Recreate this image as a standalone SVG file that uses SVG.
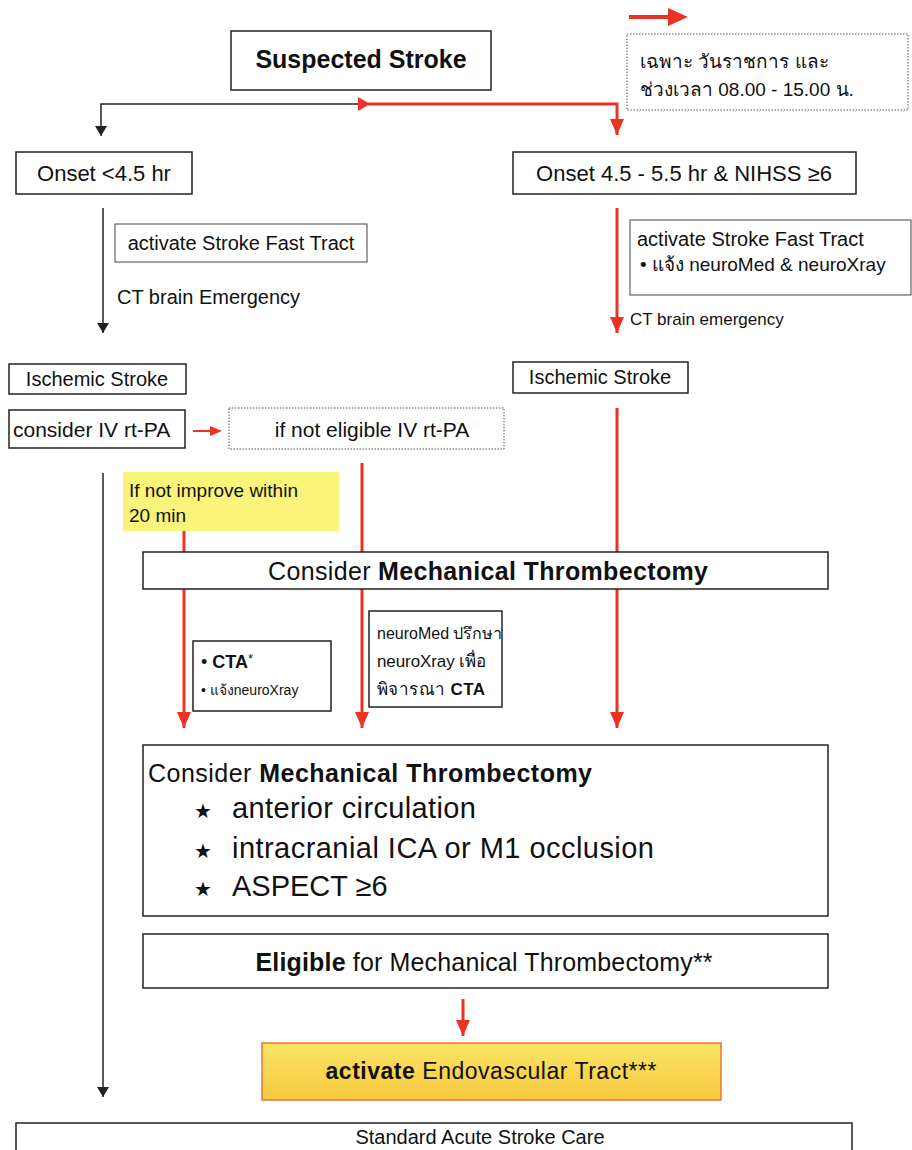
<svg xmlns="http://www.w3.org/2000/svg" width="912" height="1150" viewBox="0 0 912 1150">
  <defs>
    <style>
      text { font-family: "Liberation Sans", "Noto Sans", "DejaVu Sans", sans-serif; fill: #111; }
      .box { fill: #fff; stroke: #222; stroke-width: 1.5; }
      .thin { fill: #fff; stroke: #444; stroke-width: 1; }
      .dot { fill: #fff; stroke: #555; stroke-width: 1; stroke-dasharray: 1.5 1.5; }
      .blk { fill: none; stroke: #222; stroke-width: 1.5; }
      .red { fill: none; stroke: #ea3323; stroke-width: 3; }
      .b { font-weight: bold; }
    </style>
    <marker id="ahB" viewBox="0 0 10 12" refX="10" refY="6" markerWidth="10" markerHeight="12" markerUnits="userSpaceOnUse" orient="auto">
      <path d="M0,0 L10,6 L0,12 z" fill="#222"/>
    </marker>
    <marker id="ahR" viewBox="0 0 16 14" refX="16" refY="7" markerWidth="16" markerHeight="14" markerUnits="userSpaceOnUse" orient="auto">
      <path d="M0,0 L16,7 L0,14 z" fill="#ea3323"/>
    </marker>
    <linearGradient id="gold" x1="0" y1="0" x2="0" y2="1">
      <stop offset="0" stop-color="#fbe466"/>
      <stop offset="1" stop-color="#f6c93f"/>
    </linearGradient>
  </defs>

  <!-- legend: red arrow = office hours only -->
  <g id="legend">
    <line x1="629" y1="17" x2="672" y2="17" stroke="#ea3323" stroke-width="4"/>
    <path d="M668,8 L688,17 L668,26 z" fill="#ea3323"/>
    <rect class="dot" x="627" y="34" width="281" height="76"/>
    <text x="640" y="68" font-size="19">เฉพาะ วันราชการ และ</text>
    <text x="640" y="96" font-size="19">ช่วงเวลา 08.00 - 15.00 น.</text>
  </g>

  <g id="connectors">
    <!-- split below Suspected Stroke -->
    <path class="blk" d="M362,104 H101 V136" marker-end="url(#ahB)"/>
    <path d="M358,97 L370,104 L358,111 z" fill="#ea3323"/>
    <path class="red" d="M368,104 H617 V135" marker-end="url(#ahR)"/>
    <!-- left branch -->
    <path class="blk" d="M103,208 V333" marker-end="url(#ahB)"/>
    <line x1="193" y1="431" x2="212" y2="431" stroke="#ea3323" stroke-width="2"/>
    <path d="M210,426 L222,431 L210,436 z" fill="#ea3323"/>
    <path class="blk" d="M103,473 V1097" marker-end="url(#ahB)"/>
    <!-- right branch -->
    <path class="red" d="M617,208 V333" marker-end="url(#ahR)"/>
    <path class="red" d="M617,408 V552"/>
    <path class="red" d="M362,463 V552"/>
    <path class="red" d="M184,531 V552"/>
    <!-- into criteria box -->
    <path class="red" d="M184,589 V728" marker-end="url(#ahR)"/>
    <path class="red" d="M362,589 V728" marker-end="url(#ahR)"/>
    <path class="red" d="M617,589 V728" marker-end="url(#ahR)"/>
    <path class="red" d="M463,999 V1036" marker-end="url(#ahR)"/>
  </g>

  <g id="suspected">
    <rect class="box" x="231" y="31" width="260" height="59" stroke-width="2"/>
    <text x="361" y="68" font-size="25" class="b" text-anchor="middle">Suspected Stroke</text>
  </g>

  <g id="onset-early">
    <rect class="box" x="16" y="152" width="176" height="42"/>
    <text x="104" y="181" font-size="22" text-anchor="middle">Onset &lt;4.5 hr</text>
  </g>
  <g id="fast-tract-left">
    <rect class="thin" x="115" y="224" width="252" height="38"/>
    <text x="241" y="250" font-size="20" text-anchor="middle">activate Stroke Fast Tract</text>
  </g>
  <text id="ct-left" x="117" y="304" font-size="20">CT brain Emergency</text>

  <g id="onset-late">
    <rect class="box" x="513" y="152" width="343" height="42"/>
    <text x="684" y="181" font-size="22" text-anchor="middle">Onset 4.5 - 5.5 hr &amp; NIHSS ≥6</text>
  </g>
  <g id="fast-tract-right">
    <rect class="thin" x="630" y="220" width="281" height="75"/>
    <text x="637" y="246" font-size="20">activate Stroke Fast Tract</text>
    <text x="640" y="271" font-size="19">• แจ้ง neuroMed &amp; neuroXray</text>
  </g>
  <text id="ct-right" x="630" y="325" font-size="17">CT brain emergency</text>

  <g id="ischemic-left">
    <rect class="box" x="9" y="364" width="177" height="30"/>
    <text x="97" y="386" font-size="20" text-anchor="middle">Ischemic Stroke</text>
  </g>
  <g id="ischemic-right">
    <rect class="box" x="513" y="362" width="175" height="31"/>
    <text x="600" y="384" font-size="20" text-anchor="middle">Ischemic Stroke</text>
  </g>

  <g id="iv-rtpa">
    <rect class="box" x="9" y="410" width="176" height="38"/>
    <text x="13" y="437" font-size="21">consider IV rt-PA</text>
  </g>
  <g id="not-eligible">
    <rect class="dot" x="229" y="408" width="275" height="41"/>
    <text x="372" y="437" font-size="21" text-anchor="middle">if not eligible IV rt-PA</text>
  </g>

  <g id="no-improve">
    <rect x="123" y="472" width="216" height="59" fill="#faf57a"/>
    <text x="129" y="497" font-size="19">If not improve within</text>
    <text x="129" y="522" font-size="19">20 min</text>
  </g>

  <g id="consider-mt">
    <rect class="box" x="143" y="552" width="685" height="37"/>
    <text x="488" y="580" font-size="25" text-anchor="middle" textLength="440">Consider <tspan class="b">Mechanical Thrombectomy</tspan></text>
  </g>

  <g id="cta-notify">
    <rect class="box" x="193" y="641" width="138" height="70"/>
    <text x="201" y="668" font-size="18">• <tspan class="b">CTA</tspan><tspan font-size="13" dy="-5">*</tspan></text>
    <text x="201" y="695" font-size="14">•  แจ้งneuroXray</text>
  </g>

  <g id="consult">
    <rect class="box" x="369" y="611" width="133" height="96"/>
    <text x="377" y="639" font-size="16">neuroMed ปรึกษา</text>
    <text x="377" y="667" font-size="17" textLength="109">neuroXray เพื่อ</text>
    <text x="377" y="695" font-size="17" textLength="108">พิจารณา <tspan class="b">CTA</tspan></text>
  </g>

  <g id="criteria">
    <rect class="box" x="143" y="745" width="685" height="171"/>
    <text x="148" y="782" font-size="25" textLength="444">Consider <tspan class="b">Mechanical Thrombectomy</tspan></text>
    <text x="194" y="818" font-size="20">★</text>
    <text x="232" y="818" font-size="29" textLength="244">anterior circulation</text>
    <text x="194" y="858" font-size="20">★</text>
    <text x="232" y="858" font-size="29" textLength="422">intracranial ICA or M1 occlusion</text>
    <text x="194" y="896" font-size="20">★</text>
    <text x="232" y="896" font-size="29">ASPECT ≥6</text>
  </g>

  <g id="eligible">
    <rect class="box" x="143" y="934" width="685" height="54"/>
    <text x="484" y="971" font-size="25" text-anchor="middle" textLength="457"><tspan class="b">Eligible</tspan> for Mechanical Thrombectomy**</text>
  </g>

  <g id="endovascular">
    <rect x="262" y="1043" width="459" height="57" fill="url(#gold)" stroke="#e8743b" stroke-width="1.5"/>
    <text x="491" y="1079" font-size="23" text-anchor="middle" textLength="331"><tspan class="b">activate</tspan> Endovascular Tract***</text>
  </g>

  <g id="standard-care">
    <rect class="box" x="16" y="1123" width="836" height="40"/>
    <text x="480" y="1144" font-size="20" text-anchor="middle">Standard Acute Stroke Care</text>
  </g>
</svg>
